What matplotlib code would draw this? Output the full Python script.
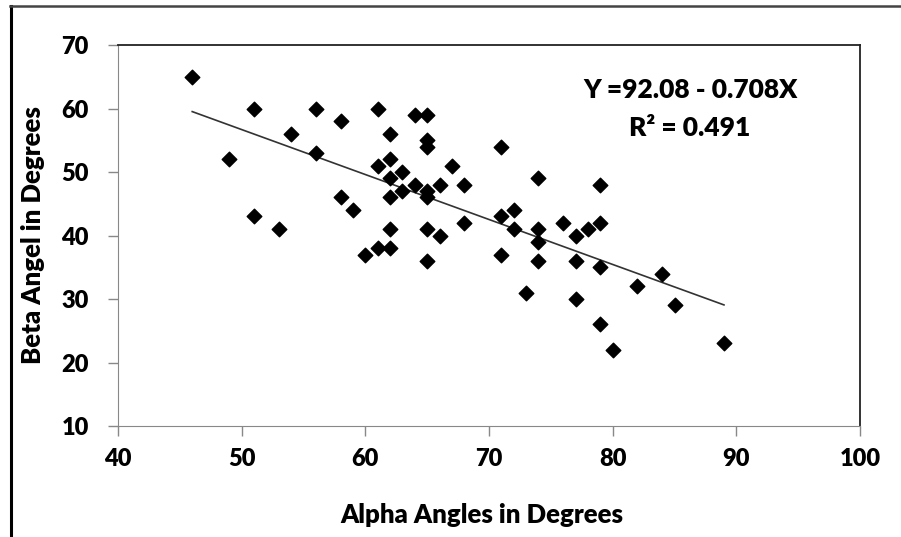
import matplotlib.pyplot as plt
from matplotlib.lines import Line2D

# dane
alpha = [46, 49, 51, 51, 53, 54, 56, 56, 58, 58, 59, 60,
         61, 61, 61, 62, 62, 62, 62, 62, 62, 63, 63, 64, 64,
         65, 65, 65, 65, 65, 65, 65, 66, 66, 67, 68, 68,
         71, 71, 71, 72, 72, 73, 74, 74, 74, 74, 76,
         77, 77, 77, 78, 79, 79, 79, 79, 80, 82, 84, 85, 89]
beta = [65, 52, 60, 43, 41, 56, 60, 53, 58, 46, 44, 37,
        60, 51, 38, 56, 52, 49, 46, 41, 38, 50, 47, 59, 48,
        59, 55, 54, 47, 46, 41, 36, 48, 40, 51, 48, 42,
        54, 43, 37, 44, 41, 31, 49, 41, 39, 36, 42,
        40, 36, 30, 41, 48, 42, 35, 26, 22, 32, 34, 29, 23]

# rownanie regresji z wykresu
a0 = 92.08
a1 = -0.708

plt.rcParams['font.family'] = ['Lato', 'DejaVu Sans']

fig = plt.figure(figsize=(9.01, 5.37), dpi=100)
ax = fig.add_axes([0.131, 0.2067, 0.8235, 0.7095])

ax.scatter(alpha, beta, marker='D', s=55, color='black', zorder=3)

x_line = [min(alpha), max(alpha)]
y_line = [a0 + a1 * x for x in x_line]
ax.plot(x_line, y_line, color='#333333', lw=1.2, zorder=2)

ax.set_xlim(40, 100)
ax.set_ylim(10, 70)
ax.set_xticks(range(40, 101, 10))
ax.set_yticks(range(10, 71, 10))

for s in ['left', 'bottom']:
    ax.spines[s].set_color('#888888')
for s in ['top', 'right']:
    ax.spines[s].set_color('#222222')
    ax.spines[s].set_linewidth(1.3)
ax.tick_params(direction='out', length=7, width=1, color='#888888', labelsize=17)
ax.tick_params(axis='x', pad=9)
ax.tick_params(axis='y', pad=14)
for lab in ax.get_xticklabels() + ax.get_yticklabels():
    lab.set_fontweight('heavy')

ax.set_xlabel('Alpha Angles in Degrees', fontsize=18.5, fontweight='heavy')
ax.set_ylabel('Beta Angel in Degrees', fontsize=18.5, fontweight='heavy')
ax.xaxis.label.set_va('center')
ax.yaxis.label.set_va('center')
ax.xaxis.set_label_coords(0.49, -0.234)
ax.yaxis.set_label_coords(-0.115, 0.5)

ax.text(0.771, 0.883, 'Y =92.08 - 0.708X', transform=ax.transAxes,
        ha='center', va='center', fontsize=19, fontweight='heavy')
ax.text(0.771, 0.782, 'R² = 0.491', transform=ax.transAxes,
        ha='center', va='center', fontsize=19, fontweight='heavy')

# ramka obrazka (lewa i gorna krawedz)
fig.add_artist(Line2D([11 / 901, 11 / 901], [0, 1 - 6 / 537], color='black', lw=2.2))
fig.add_artist(Line2D([10 / 901, 1], [1 - 6 / 537, 1 - 6 / 537], color='#444444', lw=1.8))

plt.savefig('out.png', dpi=100)
